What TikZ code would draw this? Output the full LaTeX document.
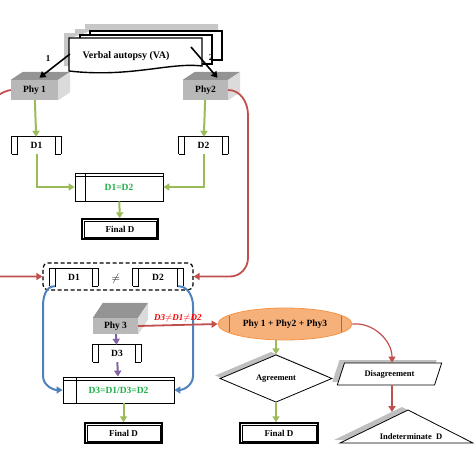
\documentclass[tikz,border=0pt]{standalone}
\usepackage{fontspec}
\setmainfont{Liberation Serif}
\usetikzlibrary{arrows.meta,
                positioning,
                shadows,
                shapes.geometric
            }

\definecolor{vagreen}{HTML}{9BBB59}
\definecolor{vared}{HTML}{C0504D}
\definecolor{vablue}{HTML}{4F81BD}
\definecolor{vapurple}{HTML}{8064A2}
\definecolor{txtgreen}{HTML}{1FAF4B}
\definecolor{ellfill}{HTML}{F6B07A}
\definecolor{ellline}{HTML}{F79646}

\tikzset{
    lbl/.style={font=\fontsize{9}{10}\selectfont\bfseries},
    phybox/.style={fill=black!28, inner sep=0pt, lbl, font=\fontsize{9.5}{10}\selectfont\bfseries},
    dbox/.style={minimum width=49pt, minimum height=17pt, inner sep=0pt, lbl, font=\fontsize{9.5}{10}\selectfont\bfseries},
    storebox/.style={draw, thick, fill=white, inner sep=0pt, lbl, font=\fontsize{9.5}{10}\selectfont\bfseries, text=txtgreen},
    finalbox/.style={draw, line width=1.4pt, fill=white, minimum width=77pt, minimum height=20pt, inner sep=0pt, lbl},
    tip/.style={-{Triangle[length=6pt,width=7pt]}},
    garrow/.style={vagreen, line width=2pt, tip},
    rarrow/.style={vared, line width=1.8pt, tip},
    barrow/.style={vablue, line width=2pt, tip},
    parrow/.style={vapurple, line width=2pt, tip},
    karrow/.style={black, line width=1.6pt, tip},
    greyshadow/.style={drop shadow={shadow xshift=#1, shadow yshift=3pt, fill=black!25, opacity=1}}
}

\begin{document}
\begin{tikzpicture}[x=1pt, y=-1pt]
    \useasboundingbox (0,0) rectangle (474,474);
    \clip (0,0) rectangle (474,474);

    % verbal autopsy stack
    \fill[black!22] (64,66) -- (64,33) -- (75,33) -- (75,29) -- (85,29) -- (85,24) -- (218,24) -- (218,31) -- (90,31) -- (80,35) -- (69,38) -- (69,66) -- cycle;
    \draw[line width=1.4pt, fill=white] (90,31) rectangle (222,60);
    \draw[line width=1.4pt, fill=white] (80,35) rectangle (212,64);
    \node[lbl] at (211,58) {2};
    \draw[line width=1.4pt, fill=white] (69,38) -- (202,38) -- (202,66) .. controls (170,62) and (130,78) .. (69,71) -- cycle;
    \node[lbl, font=\fontsize{10}{11}\selectfont\bfseries] (va) at (126,56) {Verbal autopsy (VA)};
    \coordinate (valeft) at (70,54);
    \coordinate (varight) at (191,47);
    \node[lbl] at (48,59) {1};

    % physicians
    \node[phybox, minimum width=47pt, minimum height=20pt] (phy1) at (34.5,90) {Phy 1};
    \node[phybox, minimum width=45pt, minimum height=20pt] (phy2) at (205.5,90) {Phy2};
    \node[phybox, minimum width=45pt, minimum height=16pt] (phy3) at (115.5,326) {Phy 3};
    \foreach \p/\dx/\dy in {phy1/12/8, phy2/12/8, phy3/10/15}{
        \fill[black!42] (\p.north west) -- ++(\dx,-\dy) -- ([xshift=\dx pt, yshift=\dy pt]\p.north east) -- (\p.north east) -- cycle;
        \fill[black!14] (\p.north east) -- ++(\dx,-\dy) -- ([xshift=\dx pt, yshift=\dy pt]\p.south east) -- (\p.south east) -- cycle;
    }

    % first round
    \node[dbox] (d1) at (36.5,145.5) {D1};
    \node[dbox] (d2) at (203.5,145.5) {D2};
    \node[storebox, minimum width=88pt, minimum height=28pt] (store1) at (119,187) {D1=D2};
    \node[finalbox, minimum width=76pt] (final1) at (120,229) {Final D};

    % disagreement
    \node[draw, line width=1.2pt, dash pattern=on 4pt off 2.5pt, rounded corners=5pt, minimum width=150pt, minimum height=27pt] (dash) at (118,276.5) {};
    \node[dbox, minimum width=48pt] (d1b) at (74,277.5) {D1};
    \node[dbox, minimum width=50pt] (d2b) at (158,277.5) {D2};
    \node[lbl, font=\fontsize{11}{12}\selectfont] (neq) at (116,279) {$\neq$};

    % third physician
    \node[dbox, minimum width=48pt] (d3) at (117,353.5) {D3};
    \node[storebox, minimum width=111pt, minimum height=26pt] (store2) at (118.5,390) {D3=D1/D3=D2};
    \node[finalbox] (final2) at (123.5,433) {Final D};

    \foreach \d in {d1,d2,d1b,d2b,d3}{
        \draw[thick] (\d.south west) -- (\d.north west) -- (\d.north east) -- (\d.south east)
            ([xshift=6pt]\d.north west) -- ([xshift=6pt]\d.south west) -- (\d.south west)
            ([xshift=-6pt]\d.north east) -- ([xshift=-6pt]\d.south east) -- (\d.south east);
    }
    \foreach \s/\v in {store1/11, store2/14}{
        \draw ([yshift=-4pt]\s.north west) -- ([yshift=-4pt]\s.north east);
        \draw ([xshift=\v pt]\s.north west) -- ([xshift=\v pt]\s.south west);
    }

    % panel of three
    \node[ellipse, draw=ellline, fill=ellfill, thick, minimum width=134pt, minimum height=32pt, inner sep=0pt, lbl, font=\fontsize{9.5}{10}\selectfont\bfseries] (panel) at (285,324) {Phy 1 + Phy2 + Phy3};
    \draw[ellline!70!black, very thin] ([xshift=-56pt, yshift=-8pt]panel.center) -- ([xshift=-56pt, yshift=8pt]panel.center)
        ([xshift=56pt, yshift=-8pt]panel.center) -- ([xshift=56pt, yshift=8pt]panel.center);
    \node[diamond, draw, thick, fill=white, greyshadow=-5pt, minimum width=112pt, minimum height=33pt, inner sep=0pt, lbl, font=\fontsize{8.5}{9}\selectfont\bfseries] (agree) at (276,378.5) {Agreement};
    \node[finalbox, minimum width=78pt] (final3) at (279,433) {Final D};
    \node[trapezium, trapezium left angle=63, trapezium right angle=117, trapezium stretches=true, draw, thick, fill=white, greyshadow=-5pt, minimum width=105pt, minimum height=22pt, inner sep=0pt, lbl, font=\fontsize{8.5}{9}\selectfont\bfseries] (disagree) at (389.5,374) {Disagreement};
    \draw[thick, fill=white, greyshadow=-6pt] (340,443) -- (408,410) -- (473,443) -- cycle;
    \node[lbl, font=\fontsize{8.5}{9}\selectfont\bfseries] (indet) at (411,437) {Indeterminate\ \ D};
    \coordinate (trislope) at (392,412);

    \foreach \f in {final1,final2,final3}{
        \draw[thin] ([xshift=2.5pt, yshift=-2.5pt]\f.north west) rectangle ([xshift=-2.5pt, yshift=2.5pt]\f.south east);
    }

    % connectors
    \draw[karrow] (valeft) -- ([xshift=5pt, yshift=2pt]phy1.north);
    \draw[karrow] (varight) -- ([xshift=12pt, yshift=2pt]phy2.north);
    \draw[garrow] (phy1) -- (d1);
    \draw[garrow] (phy2) -- (d2);
    \draw[garrow] (d1.south) |- (store1.west);
    \draw[garrow] (d2.south) |- (store1.east);
    \draw[garrow] (store1) -- (final1);
    \draw[rarrow] (phy1.west) to[out=190, in=90] (-16,130) -- (-16,255) to[out=-90, in=180] (-4,276.5) -- (dash.west);
    \draw[rarrow] (phy2.east) to[out=0, in=90] (248,115) -- (248,258) to[out=-90, in=0] (230,276.5) -- (dash.east);
    \draw[barrow] ([xshift=5pt]d1b.south west) to[out=180, in=90] (43,306) -- (43,376) to[out=-90, in=180] (store2.west);
    \draw[barrow] ([xshift=-5pt]d2b.south east) to[out=0, in=90] (193,306) -- (193,376) to[out=-90, in=0] (store2.east);
    \draw[parrow] (phy3) -- (d3);
    \draw[parrow] (d3) -- (store2);
    \draw[garrow] (store2.south -| final2.north) -- (final2.north);
    \draw[rarrow] (phy3.east) -- node[above=-1pt, text=red, font=\fontsize{9}{10}\selectfont\bfseries\itshape] {D3$\neq$D1$\neq$D2} (panel.west);
    \draw[garrow] (panel.south -| agree.north) -- (agree.north);
    \draw[garrow] (agree.south) -- (agree.south |- final3.north);
    \draw[vared, line width=1.2pt, tip] (panel.east) to[out=5, in=90] ([xshift=2.5pt]disagree.north);
    \draw[rarrow] ([xshift=2.5pt]disagree.south) -- (trislope);
\end{tikzpicture}
\end{document}
